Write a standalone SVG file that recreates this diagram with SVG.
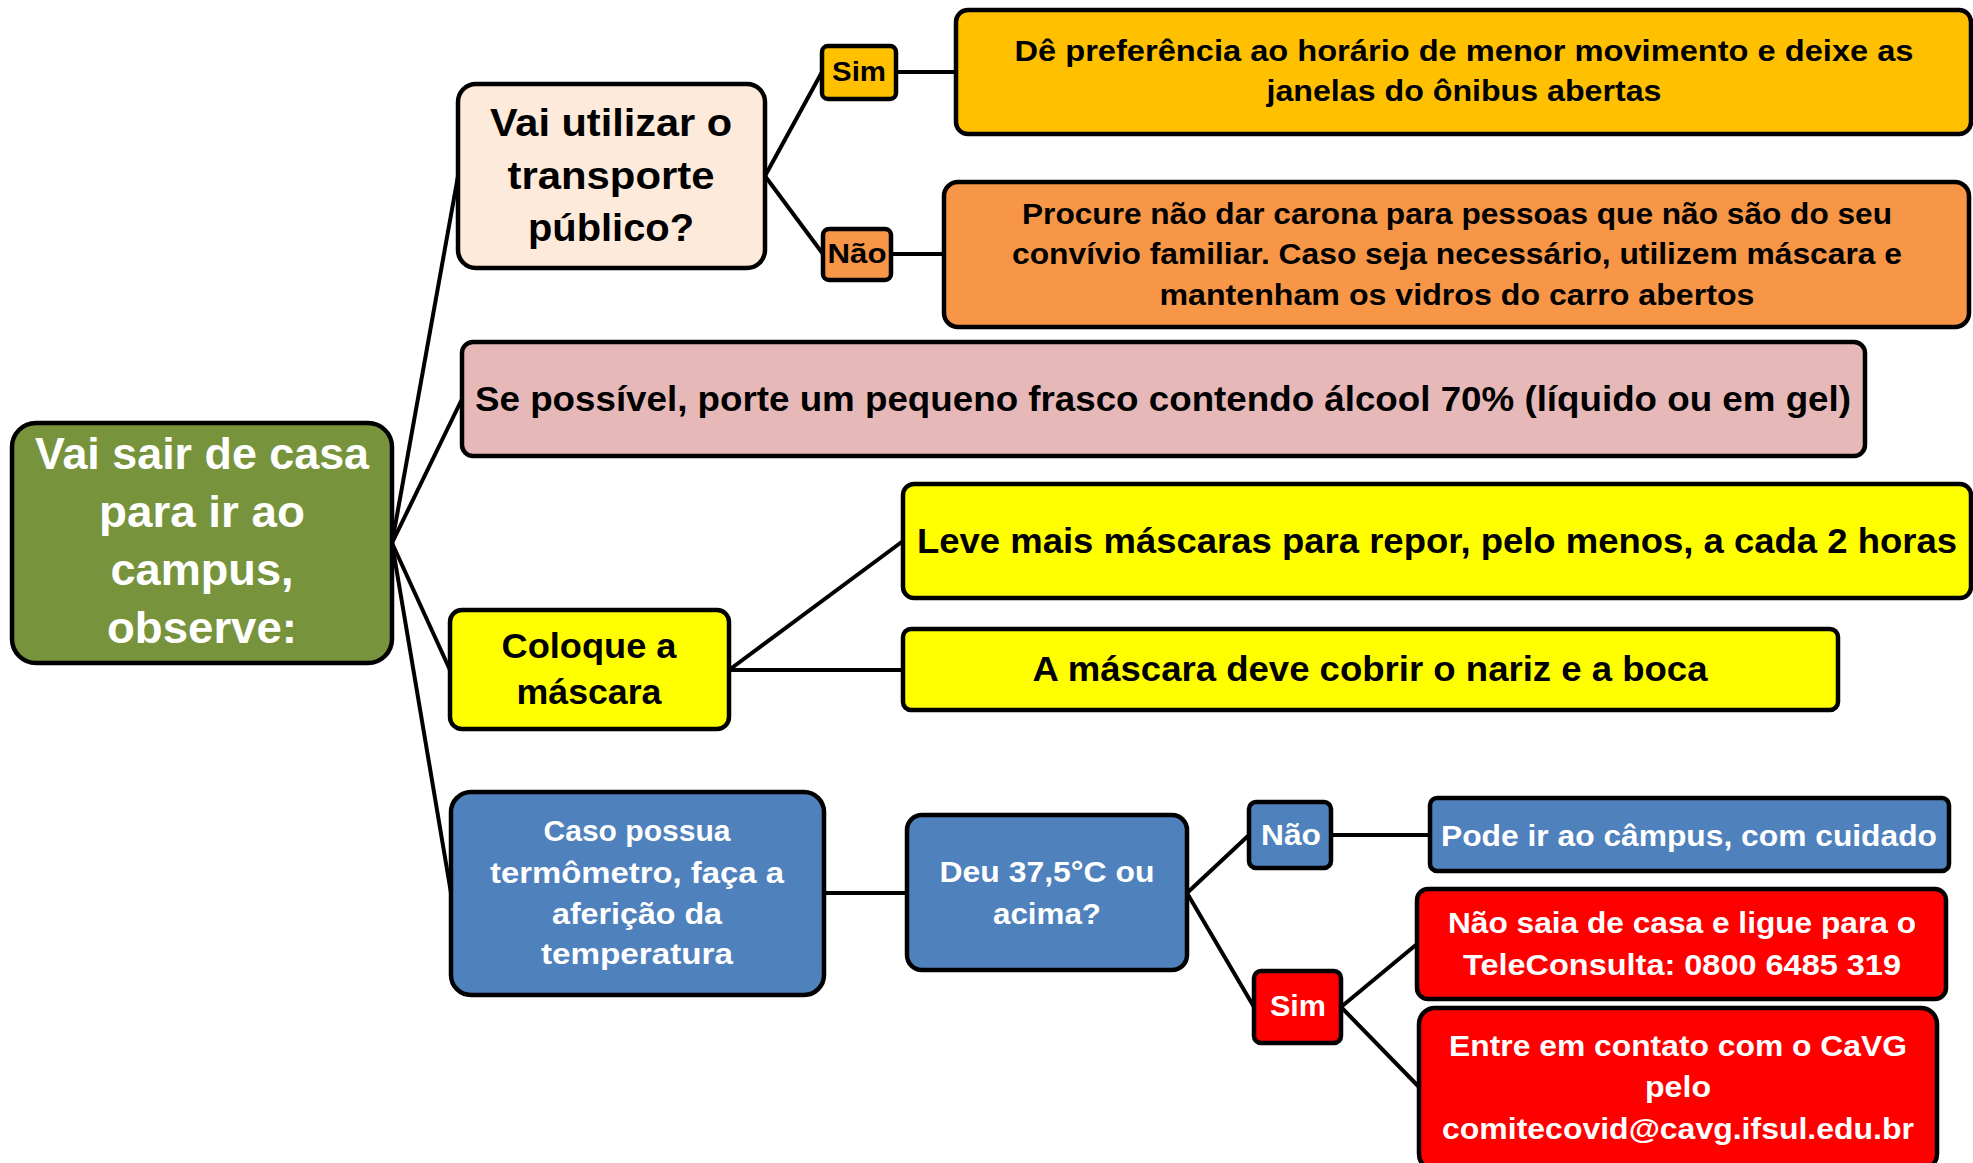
<svg xmlns="http://www.w3.org/2000/svg" width="1973" height="1163" viewBox="0 0 1973 1163">
<style>
.b{stroke:#000;stroke-width:4.5}
.c{stroke:#000;stroke-width:4;fill:none}
text{font-family:"Liberation Sans",Arial,sans-serif;font-weight:bold;text-anchor:middle}
.w{fill:#fff}
.k{fill:#000}
</style>
<rect width="1973" height="1163" fill="#fff"/>
<g id="connectors">
<line class="c" x1="392" y1="543" x2="458" y2="176"/>
<line class="c" x1="392" y1="543" x2="462" y2="399"/>
<line class="c" x1="392" y1="543" x2="450" y2="670"/>
<line class="c" x1="392" y1="543" x2="451" y2="893"/>
<line class="c" x1="765" y1="176" x2="822" y2="72"/>
<line class="c" x1="765" y1="176" x2="823" y2="254"/>
<line class="c" x1="896" y1="72" x2="956" y2="72"/>
<line class="c" x1="891" y1="254" x2="944" y2="254"/>
<line class="c" x1="729" y1="670" x2="903" y2="541"/>
<line class="c" x1="729" y1="670" x2="903" y2="670"/>
<line class="c" x1="824" y1="893" x2="907" y2="893"/>
<line class="c" x1="1187" y1="893" x2="1249" y2="835"/>
<line class="c" x1="1187" y1="893" x2="1254" y2="1007"/>
<line class="c" x1="1331" y1="835" x2="1430" y2="835"/>
<line class="c" x1="1341" y1="1007" x2="1417" y2="944"/>
<line class="c" x1="1341" y1="1007" x2="1419" y2="1087"/>
</g>
<g id="root">
<rect class="b" x="12" y="423" width="380" height="240" rx="24" fill="#77933C"/>
<text class="w" font-size="45" x="202" y="469" textLength="334" lengthAdjust="spacingAndGlyphs">Vai sair de casa</text>
<text class="w" font-size="45" x="202" y="527" textLength="206" lengthAdjust="spacingAndGlyphs">para ir ao</text>
<text class="w" font-size="45" x="202" y="585" textLength="183" lengthAdjust="spacingAndGlyphs">campus,</text>
<text class="w" font-size="45" x="202" y="643" textLength="190" lengthAdjust="spacingAndGlyphs">observe:</text>
</g>
<g id="transporte">
<rect class="b" x="458" y="84" width="307" height="184" rx="18" fill="#FDEADA"/>
<text class="k" font-size="38" x="611" y="136" textLength="242" lengthAdjust="spacingAndGlyphs">Vai utilizar o</text>
<text class="k" font-size="38" x="611" y="189" textLength="207" lengthAdjust="spacingAndGlyphs">transporte</text>
<text class="k" font-size="38" x="611" y="241" textLength="166" lengthAdjust="spacingAndGlyphs">público?</text>
</g>
<g id="sim1">
<rect class="b" x="822" y="46" width="74" height="53" rx="6" fill="#FFC000"/>
<text class="k" font-size="28" x="859" y="81" textLength="54" lengthAdjust="spacingAndGlyphs">Sim</text>
</g>
<g id="nao1">
<rect class="b" x="823" y="229" width="68" height="51" rx="6" fill="#F79646"/>
<text class="k" font-size="27" x="857" y="263" textLength="59" lengthAdjust="spacingAndGlyphs">Não</text>
</g>
<g id="onibus">
<rect class="b" x="956" y="10" width="1015" height="124" rx="12" fill="#FFC000"/>
<text class="k" font-size="29" x="1464" y="61" textLength="899" lengthAdjust="spacingAndGlyphs">Dê preferência ao horário de menor movimento e deixe as</text>
<text class="k" font-size="29" x="1464" y="101" textLength="395" lengthAdjust="spacingAndGlyphs">janelas do ônibus abertas</text>
</g>
<g id="carona">
<rect class="b" x="944" y="182" width="1025" height="145" rx="14" fill="#F79646"/>
<text class="k" font-size="29" x="1457" y="224" textLength="870" lengthAdjust="spacingAndGlyphs">Procure não dar carona para pessoas que não são do seu</text>
<text class="k" font-size="29" x="1457" y="264" textLength="890" lengthAdjust="spacingAndGlyphs">convívio familiar. Caso seja necessário, utilizem máscara e</text>
<text class="k" font-size="29" x="1457" y="305" textLength="595" lengthAdjust="spacingAndGlyphs">mantenham os vidros do carro abertos</text>
</g>
<g id="alcool">
<rect class="b" x="462" y="342" width="1403" height="114" rx="11" fill="#E6B9B8"/>
<text class="k" font-size="35" x="1163" y="411" textLength="1376" lengthAdjust="spacingAndGlyphs">Se possível, porte um pequeno frasco contendo álcool 70% (líquido ou em gel)</text>
</g>
<g id="coloque">
<rect class="b" x="450" y="610" width="279" height="119" rx="12" fill="#FFFF00"/>
<text class="k" font-size="35" x="589" y="658" textLength="175" lengthAdjust="spacingAndGlyphs">Coloque a</text>
<text class="k" font-size="35" x="589" y="704" textLength="145" lengthAdjust="spacingAndGlyphs">máscara</text>
</g>
<g id="leve">
<rect class="b" x="903" y="484" width="1068" height="114" rx="11" fill="#FFFF00"/>
<text class="k" font-size="35" x="1437" y="553" textLength="1040" lengthAdjust="spacingAndGlyphs">Leve mais máscaras para repor, pelo menos, a cada 2 horas</text>
</g>
<g id="cobrir">
<rect class="b" x="903" y="629" width="935" height="81" rx="8" fill="#FFFF00"/>
<text class="k" font-size="35" x="1370" y="681" textLength="675" lengthAdjust="spacingAndGlyphs">A máscara deve cobrir o nariz e a boca</text>
</g>
<g id="termometro">
<rect class="b" x="451" y="792" width="373" height="203" rx="20" fill="#4F81BD"/>
<text class="w" font-size="29" x="637" y="841" textLength="187" lengthAdjust="spacingAndGlyphs">Caso possua</text>
<text class="w" font-size="29" x="637" y="883" textLength="294" lengthAdjust="spacingAndGlyphs">termômetro, faça a</text>
<text class="w" font-size="29" x="637" y="924" textLength="170" lengthAdjust="spacingAndGlyphs">aferição da</text>
<text class="w" font-size="29" x="637" y="964" textLength="192" lengthAdjust="spacingAndGlyphs">temperatura</text>
</g>
<g id="febre">
<rect class="b" x="907" y="815" width="280" height="155" rx="15" fill="#4F81BD"/>
<text class="w" font-size="29" x="1047" y="882" textLength="215" lengthAdjust="spacingAndGlyphs">Deu 37,5°C ou</text>
<text class="w" font-size="29" x="1047" y="924" textLength="108" lengthAdjust="spacingAndGlyphs">acima?</text>
</g>
<g id="nao2">
<rect class="b" x="1249" y="802" width="82" height="66" rx="7" fill="#4F81BD"/>
<text class="w" font-size="30" x="1291" y="845" textLength="60" lengthAdjust="spacingAndGlyphs">Não</text>
</g>
<g id="pode">
<rect class="b" x="1430" y="798" width="519" height="73" rx="7" fill="#4F81BD"/>
<text class="w" font-size="30" x="1689" y="846" textLength="496" lengthAdjust="spacingAndGlyphs">Pode ir ao câmpus, com cuidado</text>
</g>
<g id="sim2">
<rect class="b" x="1254" y="971" width="87" height="72" rx="7" fill="#FF0000"/>
<text class="w" font-size="29" x="1298" y="1016" textLength="56" lengthAdjust="spacingAndGlyphs">Sim</text>
</g>
<g id="teleconsulta">
<rect class="b" x="1417" y="889" width="529" height="110" rx="11" fill="#FF0000"/>
<text class="w" font-size="29" x="1682" y="933" textLength="468" lengthAdjust="spacingAndGlyphs">Não saia de casa e ligue para o</text>
<text class="w" font-size="29" x="1682" y="975" textLength="438" lengthAdjust="spacingAndGlyphs">TeleConsulta: 0800 6485 319</text>
</g>
<g id="cavg">
<rect class="b" x="1419" y="1008" width="518" height="162" rx="16" fill="#FF0000"/>
<text class="w" font-size="29" x="1678" y="1056" textLength="458" lengthAdjust="spacingAndGlyphs">Entre em contato com o CaVG</text>
<text class="w" font-size="29" x="1678" y="1097" textLength="66" lengthAdjust="spacingAndGlyphs">pelo</text>
<text class="w" font-size="29" x="1678" y="1139" textLength="472" lengthAdjust="spacingAndGlyphs">comitecovid@cavg.ifsul.edu.br</text>
</g>
</svg>
